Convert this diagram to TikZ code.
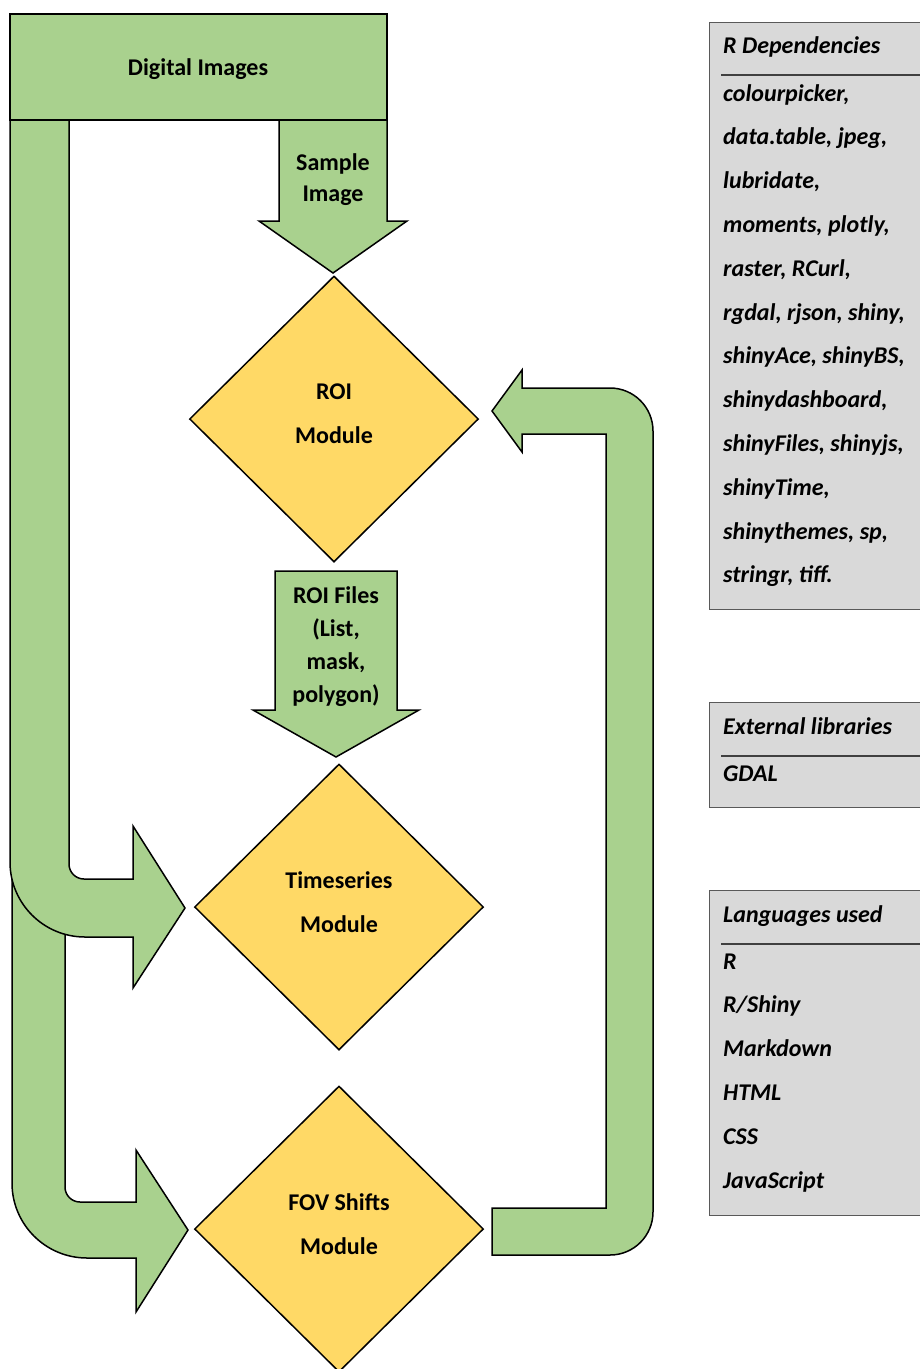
\documentclass[tikz,border=0pt]{standalone}
\usepackage{fontspec}
\setmainfont{Carlito}
\usetikzlibrary{shapes.geometric}
\definecolor{blockgreen}{HTML}{A9D18E}
\definecolor{modyellow}{HTML}{FFD966}
\definecolor{panelgray}{HTML}{D9D9D9}
\definecolor{panelline}{HTML}{595959}
\begin{document}
\begin{tikzpicture}[x=1pt,y=-1pt,
  greenblock/.style={fill=blockgreen,draw=black,line width=1.5pt},
  module/.style={diamond,fill=modyellow,draw=black,line width=1.5pt,minimum width=289pt,minimum height=286pt,inner sep=0pt},
  modtext/.style={align=center,inner sep=0pt,yshift=5pt,font=\bfseries\fontsize{24}{44}\selectfont},
  arrowtext/.style={align=center,inner sep=0pt,font=\bfseries\fontsize{24}{31}\selectfont},
  panel/.style={fill=panelgray,draw=panelline,line width=1pt},
  panelrule/.style={draw=black!75,line width=1.5pt},
  paneltext/.style={anchor=base west,inner sep=0pt,font=\bfseries\itshape\fontsize{24}{28}\selectfont}]
\useasboundingbox (0,0) rectangle (920,1369);

\filldraw[greenblock] (12,870) -- (65,870) -- (65,1187) arc[start angle=180,end angle=90,radius=15] -- (136,1202) -- (136,1150) -- (188,1230) -- (136,1312) -- (136,1258) -- (87,1258) arc[start angle=90,end angle=180,radius=75] -- cycle;
\filldraw[greenblock] (10,120) -- (69,120) -- (69,864) arc[start angle=180,end angle=90,radius=15] -- (133,879) -- (133,826) -- (185,908) -- (133,988) -- (133,937) -- (85,937) arc[start angle=90,end angle=180,radius=75] -- cycle;

\filldraw[greenblock] (10,14) rectangle (387,120);
\node[arrowtext] (digital) at (198,69) {Digital Images};

\filldraw[greenblock] (279,120) -- (387,120) -- (387,221) -- (407,221) -- (333,273) -- (259,221) -- (279,221) -- cycle;
\node[arrowtext] (sample) at (333,180) {Sample\\Image};

\node[module] (roi) at (334,419) {};
\node[modtext] (roitext) at (roi) {ROI\\Module};

\filldraw[greenblock] (275,571) -- (397,571) -- (397,710) -- (419,710) -- (336,757) -- (253,710) -- (275,710) -- cycle;
\node[arrowtext,font=\bfseries\fontsize{24}{33}\selectfont] (roifiles) at (336,647) {ROI Files\\(List,\\mask,\\polygon)};

\node[module] (ts) at (339,907) {};
\node[modtext] (tstext) at (ts) {Timeseries\\Module};
\node[module] (fov) at (339,1229) {};
\node[modtext] (fovtext) at (fov) {FOV Shifts\\Module};

\filldraw[greenblock] (492,1208) -- (606,1208) -- (606,434) -- (522,434) -- (522,452) -- (492,411) -- (522,370) -- (522,388) -- (610,388) arc[start angle=270,end angle=360,radius=43] -- (653,1212) arc[start angle=0,end angle=90,radius=43] -- (492,1255) -- cycle;

\filldraw[panel] (709,22) rectangle (930,609);
\node[paneltext] (deps) at (723,53) {R Dependencies};
\draw[panelrule] (721,75) -- (930,75);
\foreach \t [count=\i from 0] in {{colourpicker,},{data.table, jpeg,},{lubridate,},{moments, plotly,},{raster, RCurl,},{rgdal, rjson, shiny,},{shinyAce, shinyBS,},{shinydashboard,},{shinyFiles, shinyjs,},{shinyTime,},{shinythemes, sp,},{stringr, tiff.}}
  \node[paneltext] (dep\i) at (723,101+43.8*\i) {\t};

\filldraw[panel] (709,702) rectangle (930,807);
\node[paneltext] (extlib) at (723,734) {External libraries};
\draw[panelrule] (721,756) -- (930,756);
\node[paneltext] (gdal) at (723,781) {GDAL};

\filldraw[panel] (709,890) rectangle (930,1215);
\node[paneltext] (lang) at (723,922) {Languages used};
\draw[panelrule] (721,944) -- (930,944);
\foreach \t [count=\i from 0] in {R,R/Shiny,Markdown,HTML,CSS,JavaScript}
  \node[paneltext] (lang\i) at (723,969+43.8*\i) {\t};
\end{tikzpicture}
\end{document}
